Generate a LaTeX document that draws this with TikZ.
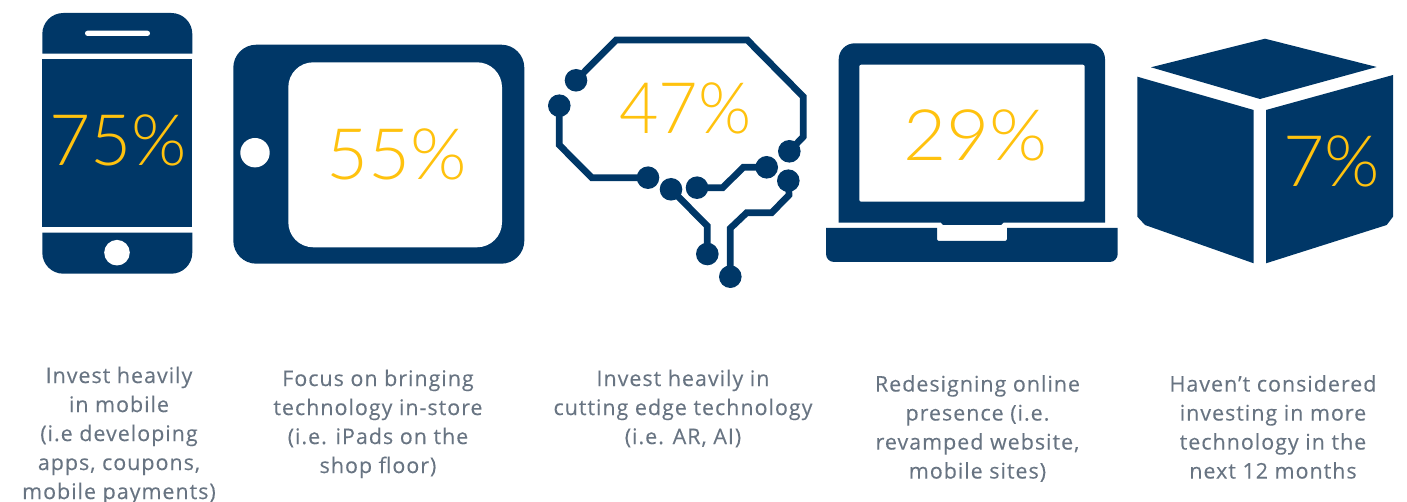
\documentclass[tikz,border=0pt]{standalone}
\usepackage{fontspec}
\setmainfont{Open Sans}[LetterSpace=4.5,FakeBold=0.2]
\newfontfamily\pctfont{Lato Light}
\definecolor{navy}{HTML}{003767}
\definecolor{gold}{HTML}{FFC20E}
\definecolor{slate}{HTML}{687482}
\newcommand\lbstrut{\rule{0pt}{16pt}}
\tikzset{
  pct/.style={anchor=base,inner sep=0pt,text=gold,font={\pctfont\fontsize{71}{71}\selectfont}},
  lbl/.style={anchor=north,inner sep=0pt,align=center,text=slate,font={\fontsize{21.5}{29}\selectfont}},
  solder/.style={circle,fill=navy,minimum size=22.6pt,inner sep=0pt},
  trace/.style={draw=navy,line width=6.7pt,line join=miter},
  hole/.style={fill=white},
  body/.style={fill=navy}
}
\begin{document}
\begin{tikzpicture}[x=1pt,y=-1pt]
\useasboundingbox (0,0) rectangle (1407,502);
% phone
\fill[body] (42.3,53.7) [rounded corners=21pt] -- (42.3,13) -- (192.3,13) [sharp corners] -- (192.3,53.7) -- cycle;
\fill[body] (42.3,59) rectangle (192.3,227.3);
\fill[body] (42.3,232.7) [rounded corners=21pt] -- (42.3,273.7) -- (192.3,273.7) [sharp corners] -- (192.3,232.7) -- cycle;
\fill[hole,rounded corners=2.6pt] (85,30.7) rectangle (150,36);
\fill[hole] (117,252.7) circle (12.8pt);
% tablet
\fill[body,rounded corners=23pt] (233.3,44.7) rectangle (524.3,263.7);
\fill[hole,rounded corners=25pt] (288.3,62.3) rectangle (502,247.3);
\fill[hole] (255,152.7) circle (14.7pt);
% brain
\node[solder] (b1) at (576,80.3) {};
\node[solder] (b2) at (559.3,105.7) {};
\node[solder] (b3) at (648,177.7) {};
\node[solder] (b4) at (671,189.3) {};
\node[solder] (b5) at (697,187.7) {};
\node[solder] (b6) at (766.7,167.3) {};
\node[solder] (b7) at (789.3,151.3) {};
\node[solder] (b8) at (788.3,180.7) {};
\node[solder] (b9) at (707.3,254) {};
\node[solder] (b10) at (730.3,276.7) {};
\draw[trace] (b1.center) -- (616,40) -- (747.3,40) -- (803.3,96.7) -- (803.3,136.7) -- (b7.center);
\draw[trace] (b2.center) -- (559.3,145) -- (591.7,177.7) -- (b3.center);
\draw[trace] (b4.center) -- (707.3,226) -- (b9.center);
\draw[trace] (b5.center) -- (722.7,187.7) -- (743.3,167.3) -- (b6.center);
\draw[trace] (b8.center) -- (789,195) -- (771.7,212.7) -- (746.7,212.7) -- (730.3,228.3) -- (b10.center);
% laptop
\fill[body] (838.7,222.7) [rounded corners=16pt] -- (838.7,43.3) -- (1105,43.3) [sharp corners] -- (1105,222.7) -- (1003.3,222.7) -- (1001,225) -- (943,225) -- (941,222.7) -- cycle;
\fill[hole,rounded corners=2pt] (859.3,64.7) rectangle (1084.7,201.7);
\fill[body] (826,228) [rounded corners=8pt] -- (826,262) -- (1117.7,262) [sharp corners] -- (1117.7,228) -- (1007,228) [rounded corners=2pt] -- (1007,241) -- (937,241) [sharp corners] -- (937,228) -- cycle;
% box
\fill[body] (1265,38.7) -- (1376.7,67) -- (1260,99) -- (1151,67.3) -- cycle;
\fill[body] (1137.3,76.7) -- (1253.7,110) -- (1253.7,263.3) -- (1145,225) -- (1137.3,216.7) -- cycle;
\fill[body] (1266,110) -- (1393,75) -- (1393,216.7) -- (1386.7,225) -- (1266,263.3) -- cycle;
% percentages
\node[pct] (p1) at (118.3,165.7) {75\%};
\node[pct] (p2) at (397.2,179.3) {\scalebox{1.02}[1]{55\%}};
\node[pct] (p3) at (685.2,134) {\scalebox{0.96}[1]{47\%}};
\node[pct] (p4) at (975.3,160.3) {\scalebox{1.05}[1]{29\%}};
\node[pct] (p5) at (1331.7,187) {7\%};
% labels
\node[lbl] (l1) at (119,366.5) {\lbstrut Invest heavily\\in mobile\\(i.e developing\\apps, coupons,\\mobile payments)};
\node[lbl] (l2) at (378,369.5) {\lbstrut Focus on bringing\\technology in-store\\(i.e. iPads on the\\shop floor)};
\node[lbl] (l3) at (683,369.5) {\lbstrut Invest heavily in\\cutting edge technology\\(i.e. AR, AI)};
\node[lbl] (l4) at (977.5,375) {\lbstrut Redesigning online\\presence (i.e.\\revamped website,\\mobile sites)};
\node[lbl] (l5) at (1273,375) {\lbstrut Haven’t considered\\investing in more\\technology in the\\next 12 months};
\end{tikzpicture}
\end{document}
